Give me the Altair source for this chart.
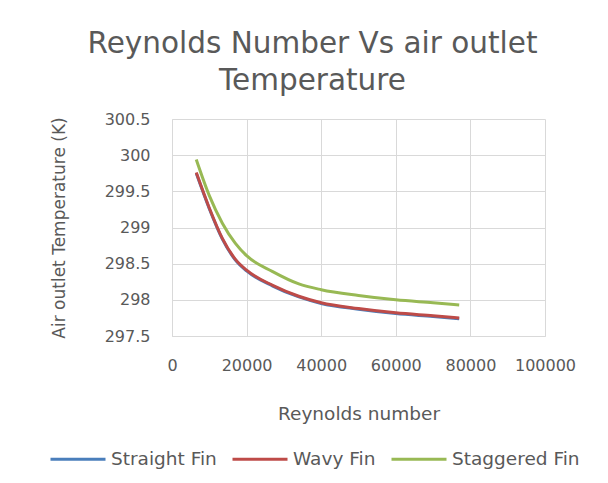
import altair as alt
import pandas as pd

reynolds = [6500, 10000, 13500, 17000, 20000, 27000, 34000, 40000, 50000, 60000, 70000, 77000]
straight = [299.75, 299.26, 298.84, 298.55, 298.40, 298.19, 298.04, 297.95, 297.87, 297.81, 297.77, 297.74]
wavy = [299.76, 299.27, 298.85, 298.56, 298.41, 298.20, 298.05, 297.96, 297.88, 297.82, 297.78, 297.75]
staggered = [299.94, 299.44, 299.06, 298.78, 298.61, 298.39, 298.22, 298.14, 298.06, 298.00, 297.96, 297.93]
series = ["Straight Fin", "Wavy Fin", "Staggered Fin"]
colors = ["#4a7ebb", "#be4b48", "#98b954"]
x_ticks = [0, 20000, 40000, 60000, 80000, 100000]
y_ticks = [297.5, 298, 298.5, 299, 299.5, 300, 300.5]

rows = []
for name, vals in zip(series, [straight, wavy, staggered]):
    for r, v in zip(reynolds, vals):
        rows.append({"Re": r, "T": v, "Series": name})
df = pd.DataFrame(rows)

font = "DejaVu Sans"
grey = "#595959"
gridc = "#d9d9d9"

chart = alt.Chart(df).mark_line(strokeWidth=3, interpolate="monotone").encode(
    x=alt.X("Re:Q", scale=alt.Scale(domain=[0, 100000], nice=False),
            axis=alt.Axis(title="Reynolds number", values=x_ticks, labelOverlap=False,
                          labelFlush=False, labelBound=False,
                          format="d", labelPadding=21, titlePadding=31, ticks=False,
                          domainColor=gridc, gridColor=gridc, labelFontSize=16,
                          titleFontSize=18.5)),
    y=alt.Y("T:Q", scale=alt.Scale(domain=[297.5, 300.5], nice=False, zero=False),
            axis=alt.Axis(title="Air outlet Temperature (K)", values=y_ticks, format="~f",
                          labelPadding=22, titlePadding=36, ticks=False, labelOverlap=False,
                          labelFlush=False,
                          domainColor=gridc, gridColor=gridc, labelFontSize=16,
                          titleFontSize=17)),
    color=alt.Color("Series:N", scale=alt.Scale(domain=series, range=colors), sort=series,
                    legend=alt.Legend(title=None, orient="none", direction="horizontal",
                                      legendX=-123, legendY=311, symbolType="stroke",
                                      symbolSize=3025, symbolStrokeWidth=3, labelFontSize=18.5,
                                      labelFont=font, labelColor=grey, columnPadding=9,
                                      labelOffset=4)),
).properties(
    width=373, height=217,
    title=alt.TitleParams(["Reynolds Number Vs air outlet", "Temperature"], fontSize=29.5,
                          font=font, color=grey, fontWeight="normal", anchor="middle",
                          offset=15, lineHeight=37, dx=-46),
    autosize="none",
    padding={"left": 172, "top": 119, "right": 63, "bottom": 147},
).configure_axis(
    labelFont=font, titleFont=font,
    labelColor=grey, titleColor=grey, titleFontWeight="normal",
).configure_view(stroke=None)

chart.save("out.html", embed_options={"renderer": "svg", "actions": False})
